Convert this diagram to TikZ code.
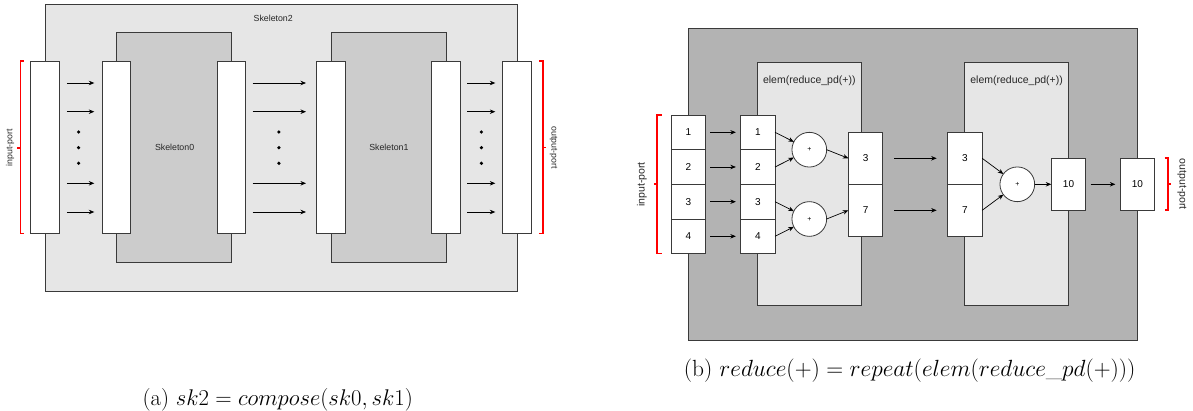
\documentclass[tikz,border=0pt]{standalone}
\usepackage{fontspec}
\usepackage{fix-cm}
\newfontfamily\arial{Liberation Sans}
\usetikzlibrary{arrows.meta,shapes.geometric}
\definecolor{lg}{HTML}{E6E6E6}
\definecolor{mg}{HTML}{CCCCCC}
\definecolor{dg}{HTML}{B3B3B3}
\definecolor{edgec}{HTML}{3A3A3A}
\definecolor{bred}{HTML}{FF0000}
\begin{document}
\begin{tikzpicture}[x=1pt,y=-1pt,
  box/.style={draw=edgec, line width=0.8pt, inner sep=0pt, outer sep=0pt},
  bar/.style={box, fill=white, minimum width=28.6pt, minimum height=172.4pt},
  cell/.style={box, fill=white, minimum width=34.5pt, minimum height=34.67pt, font=\arial\fontsize{10}{12}\selectfont},
  bigcell/.style={box, fill=white, minimum width=34.5pt, minimum height=52pt, font=\arial\fontsize{10}{12}\selectfont},
  circ/.style={draw=edgec, line width=0.8pt, fill=white, circle, inner sep=0pt, outer sep=0pt, minimum size=34.7pt, font=\arial\fontsize{7}{8}\selectfont},
  arr/.style={-{Stealth[length=5.5pt,width=4.5pt]}, line width=0.7pt, black},
  brk/.style={draw=bred, line width=1.6pt},
  lbla/.style={font=\arial\fontsize{8.8}{10}\selectfont, text=black!85, inner sep=0pt},
  lblb/.style={font=\arial\fontsize{10.5}{12}\selectfont, text=black!85, inner sep=0pt},
  captxt/.style={inner sep=0pt}]
\useasboundingbox (0,0) rectangle (1193,411);

% ---------------- left diagram (a) ----------------
\node[box, fill=lg, minimum width=472.1pt, minimum height=286.7pt] (sk2) at (281.05,147.65) {};
\node[lbla] (sk2lbl) at (273.2,18) {Skeleton2};
\node[box, fill=mg, minimum width=115pt, minimum height=229.6pt] (sk0) at (174,147.5) {};
\node[box, fill=mg, minimum width=115pt, minimum height=229.6pt] (sk1) at (388.5,147.5) {};
\node[lbla] (sk0lbl) at (174.6,147.7) {Skeleton0};
\node[lbla] (sk1lbl) at (388.9,147.7) {Skeleton1};

\node[bar] (b1) at (45,147.5) {};
\node[bar] (b2) at (116.5,147.5) {};
\node[bar] (b3) at (231.5,147.5) {};
\node[bar] (b4) at (331,147.5) {};
\node[bar] (b5) at (446,147.5) {};
\node[bar] (b6) at (517.1,147.5) {};

\foreach \dy in {64.5,35.8,-35.8,-64.5}{
  \draw[arr, shorten <=7.5pt, shorten >=7.9pt] ([yshift=\dy pt]b1.east) -- ([yshift=\dy pt]b2.west);
  \draw[arr, shorten <=6.8pt, shorten >=10.7pt] ([yshift=\dy pt]b3.east) -- ([yshift=\dy pt]b4.west);
  \draw[arr, shorten <=7.1pt, shorten >=7.5pt] ([yshift=\dy pt]b5.east) -- ([yshift=\dy pt]b6.west);
}
\foreach \x in {78.6,278.9,481.4}{
  \foreach \y in {132,147.7,163.3}{
    \fill (\x,\y) circle (1.8pt);
  }
}

\draw[brk] (20.5,233.7) -- (20.5,61.3) -- (24,61.3);
\draw[brk] (20.5,233.7) -- (24,233.7);
\draw[brk] (20.5,147.8) -- (16.8,147.8);
\node[lbla, rotate=90] (inlbla) at (10,147.5) {input-port};
\draw[brk] (539.3,61.3) -- (542.9,61.3) -- (542.9,233.7) -- (539.3,233.7);
\draw[brk] (542.9,147.5) -- (545.8,147.5);
\node[lbla, rotate=-90] (outlbla) at (553.6,147.5) {output-port};

% ---------------- right diagram (b) ----------------
\node[box, fill=dg, minimum width=449.2pt, minimum height=312.4pt] (rep) at (912.9,184.5) {};
\node[box, fill=lg, minimum width=104pt, minimum height=243pt] (e1) at (809.3,184.2) {};
\node[box, fill=lg, minimum width=104pt, minimum height=243pt] (e2) at (1016.6,184.2) {};
\node[lblb] (e1lbl) at (809.3,81) {elem(reduce\_pd(+))};
\node[lblb] (e2lbl) at (1016.6,81) {elem(reduce\_pd(+))};

\foreach \i/\y in {1/132.3,2/167,3/201.7,4/236.3}{
  \node[cell] (a\i) at (688.5,\y) {\i};
  \node[cell] (c\i) at (757.8,\y) {\i};
  \draw[arr, shorten <=4.4pt, shorten >=4.7pt] (a\i.east) -- (c\i.west);
}

\node[circ] (p1) at (809.3,149.7) {+};
\node[circ] (p2) at (809.3,219) {+};
\node[bigcell] (o3) at (865.6,158.3) {3};
\node[bigcell] (o7) at (865.6,210.3) {7};
\draw[arr] (c1.east) -- (p1);
\draw[arr] (c2.east) -- (p1);
\draw[arr] (c3.east) -- (p2);
\draw[arr] (c4.east) -- (p2);
\draw[arr] (p1.east) -- (o3.west);
\draw[arr] (p2.east) -- (o7.west);

\node[bigcell] (i3) at (964.9,158.3) {3};
\node[bigcell] (i7) at (964.9,210.3) {7};
\draw[arr, shorten <=11.3pt, shorten >=11pt] (o3.east) -- (i3.west);
\draw[arr, shorten <=11.3pt, shorten >=11pt] (o7.east) -- (i7.west);

\node[circ] (p3) at (1017.3,184.3) {+};
\draw[arr] (i3.east) -- (p3);
\draw[arr] (i7.east) -- (p3);
\node[bigcell] (t1) at (1068.5,184.3) {10};
\node[bigcell] (t2) at (1137.4,184.3) {10};
\draw[arr] (p3.east) -- (t1.west);
\draw[arr, shorten <=4.8pt, shorten >=4.8pt] (t1.east) -- (t2.west);

\draw[brk] (657,253.7) -- (657,115) -- (661.5,115);
\draw[brk] (657,253.7) -- (661.5,253.7);
\draw[brk] (657,184.3) -- (654,184.3);
\node[lblb, rotate=90] (inlblb) at (641.9,184.3) {input-port};
\draw[brk] (1164.6,158.3) -- (1168.2,158.3) -- (1168.2,210.3) -- (1164.6,210.3);
\draw[brk] (1168.2,184.3) -- (1171.2,184.3);
\node[lblb, rotate=-90] (outlblb) at (1181.8,184.3) {output-port};

% ---------------- captions ----------------
\node[captxt, font=\fontsize{22.7}{26}\selectfont] (capa) at (277.7,399.5) {(a) $sk2 = compose(sk0, sk1)$};
\node[captxt, font=\fontsize{23.4}{27}\selectfont] (capb) at (909.7,371) {(b) $reduce(+) = repeat(elem(reduce\_pd(+)))$};
\end{tikzpicture}
\end{document}
